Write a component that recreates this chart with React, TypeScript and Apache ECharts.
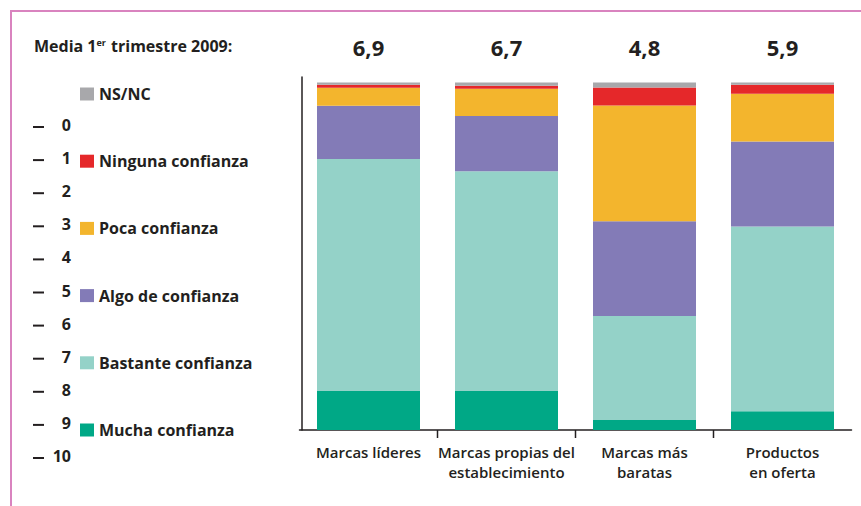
import React, { useEffect, useRef } from "react";
import * as echarts from "echarts";

// ---- data ----
const categories = [
  "Marcas líderes",
  "Marcas propias del\nestablecimiento",
  "Marcas más\nbaratas",
  "Productos\nen oferta",
];
const means = [6.9, 6.7, 4.8, 5.9];
const mucha = [11.2, 11.2, 2.9, 5.4];
const bastante = [66.8, 63.3, 29.9, 53.2];
const algo = [15.3, 15.9, 27.3, 24.4];
const poca = [5.2, 7.8, 33.3, 13.8];
const ninguna = [0.9, 0.9, 5.2, 2.6];
const nsnc = [0.6, 0.9, 1.4, 0.6];
const scaleTicks = ["0", "1", "2", "3", "4", "5", "6", "7", "8", "9", "10"];
const legendOrder = [
  "NS/NC",
  "Ninguna confianza",
  "Poca confianza",
  "Algo de confianza",
  "Bastante confianza",
  "Mucha confianza",
];

// ---- styles ----
const FONT = "Open Sans";
const INK = "#231f20";
const PINK = "#d983bf";
const GRID_LEFT = 299.5;
const GRID_WIDTH = 552;
const GRID_TOP = 77;
const GRID_HEIGHT = 353;
const SCALE_TOP = 125;
const SCALE_STEP = 33.1;

const seriesDefs = [
  { name: "Mucha confianza", data: mucha, color: "#00a886" },
  { name: "Bastante confianza", data: bastante, color: "#94d2c8" },
  { name: "Algo de confianza", data: algo, color: "#837bb7" },
  { name: "Poca confianza", data: poca, color: "#f3b52d" },
  { name: "Ninguna confianza", data: ninguna, color: "#e5282a" },
  { name: "NS/NC", data: nsnc, color: "#a8a8ab" },
];

export default function App() {
  const ref = useRef<HTMLDivElement>(null);
  useEffect(() => {
    if (!ref.current) return;
    const chart = echarts.init(ref.current, undefined, { renderer: "svg" });
    const band = GRID_WIDTH / categories.length;
    const graphic: any[] = [
      { type: "rect", shape: { x: 10, y: 10, width: 851, height: 2 }, style: { fill: PINK }, silent: true },
      { type: "rect", shape: { x: 10, y: 10, width: 2, height: 496 }, style: { fill: PINK }, silent: true },
      {
        type: "text",
        x: 34,
        y: 45,
        style: {
          text: "{a|Media 1}{s|er}{a| trimestre 2009:}",
          verticalAlign: "middle",
          rich: {
            a: { fontFamily: FONT, fontSize: 16, fontWeight: "bold", fill: INK, lineHeight: 18, verticalAlign: "bottom" },
            s: { fontFamily: FONT, fontSize: 9, fontWeight: "bold", fill: INK, lineHeight: 18, verticalAlign: "top", padding: [2, 1, 4, 0] },
          },
        },
      },
    ];
    scaleTicks.forEach((t, i) => {
      const y = SCALE_TOP + i * SCALE_STEP;
      graphic.push({
        type: "rect",
        shape: { x: 33, y: y + 1, width: 11, height: 2 },
        style: { fill: INK },
      });
      graphic.push({
        type: "text",
        x: 71,
        y,
        style: { text: t, fontFamily: FONT, fontSize: 16, fontWeight: "bold", fill: INK, align: "right", verticalAlign: "middle" },
      });
    });
    for (let i = 1; i < categories.length; i++) {
      const x = GRID_LEFT + band * i;
      graphic.push({
        type: "line",
        shape: { x1: x, y1: GRID_TOP + GRID_HEIGHT, x2: x, y2: GRID_TOP + GRID_HEIGHT + 8 },
        style: { stroke: INK, lineWidth: 1.5 },
      });
    }

    chart.setOption({
      animation: false,
      backgroundColor: "#ffffff",
      grid: { left: GRID_LEFT, width: GRID_WIDTH, top: GRID_TOP, height: GRID_HEIGHT, outerBoundsMode: "none" },
      legend: {
        orient: "vertical",
        left: 80,
        top: 86,
        padding: 0,
        itemWidth: 14,
        itemHeight: 13,
        itemGap: 51.2,
        icon: "rect",
        selectedMode: false,
        data: legendOrder,
        textStyle: { fontFamily: FONT, fontSize: 16, fontWeight: "bold", color: INK, lineHeight: 16 },
      },
      xAxis: [
        {
          type: "category",
          data: categories,
          axisLine: { lineStyle: { color: INK, width: 1.5 } },
          axisTick: { show: false },
          axisLabel: { interval: 0, fontFamily: FONT, fontSize: 15, fontWeight: 600, color: INK, lineHeight: 20, margin: 12 },
        },
        {
          type: "category",
          position: "top",
          data: means.map((m) => m.toFixed(1).replace(".", ",")),
          axisLine: { show: false },
          axisTick: { show: false },
          axisLabel: { interval: 0, fontFamily: FONT, fontSize: 22, fontWeight: "bold", color: INK, margin: 19 },
        },
      ],
      yAxis: {
        type: "value",
        min: 0,
        max: 101.6,
        offset: -2.5,
        axisLine: { show: true, lineStyle: { color: INK, width: 1.5 } },
        axisTick: { show: false },
        axisLabel: { show: false },
        splitLine: { show: false },
      },
      series: seriesDefs.map((s) => ({
        type: "bar",
        name: s.name,
        stack: "total",
        data: s.data,
        barWidth: 103,
        itemStyle: { color: s.color },
      })),
      graphic,
    });
    return () => chart.dispose();
  }, []);
  return (
    <div
      ref={ref}
      style={{ position: "fixed", left: 0, top: 0, width: 861, height: 506, background: "#fff" }}
    />
  );
}
